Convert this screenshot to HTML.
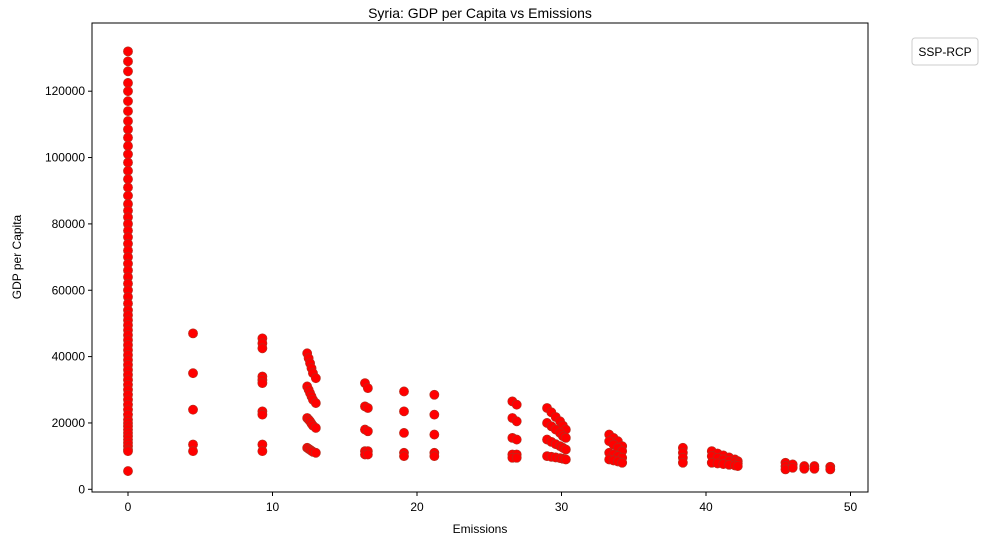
<!DOCTYPE html>
<html><head><meta charset="utf-8"><style>
body{margin:0;background:#fff;font-family:"Liberation Sans","DejaVu Sans",sans-serif}
</style></head><body>
<svg id="chart" width="989" height="545" xmlns="http://www.w3.org/2000/svg" font-family="Liberation Sans, DejaVu Sans, sans-serif">
<rect width="989" height="545" fill="#fff"/>
<text x="480" y="18" text-anchor="middle" font-size="14">Syria: GDP per Capita vs Emissions</text>
<g id="points"></g>
<rect x="92" y="23" width="776" height="469" fill="none" stroke="#000" stroke-width="1"/>
<g id="xticks"></g>
<g id="yticks"></g>
<text x="480" y="533" text-anchor="middle" font-size="12">Emissions</text>
<text transform="translate(21,257) rotate(-90)" text-anchor="middle" font-size="12">GDP per Capita</text>
<g>
<rect x="912" y="38" width="66" height="27" rx="3" fill="#fff" stroke="#ccc"/>
<text x="945" y="56" text-anchor="middle" font-size="12">SSP-RCP</text>
</g>
</svg>
<script>
const emissions = [
0,0,0,0,0,0,0,0,0,0,0,0,0,0,0,0,0,0,0,0,0,0,0,0,0,0,0,0,0,0,0,0,0,0,0,0,0,0,0,0,0,0,0,0,0,0,0,0,0,0,0,0,0,0,0,0,0,0,0,0,0,0,0,0,0,0,0,
4.5,4.5,4.5,4.5,4.5,
9.3,9.3,9.3,9.3,9.3,9.3,9.3,9.3,9.3,9.3,
12.4,12.5,12.6,12.7,12.8,13.0,12.4,12.5,12.6,12.7,12.8,13.0,12.4,12.5,12.6,12.7,12.8,13.0,12.4,12.5,12.6,12.7,12.8,13.0,
16.4,16.6,16.4,16.6,16.4,16.6,16.4,16.6,16.4,16.6,
19.1,19.1,19.1,19.1,19.1,
21.2,21.2,21.2,21.2,21.2,
26.6,26.9,26.6,26.9,26.6,26.9,26.6,26.9,26.6,26.9,
29.0,29.3,29.6,29.9,30.1,30.3,29.0,29.3,29.6,29.9,30.1,30.3,29.0,29.3,29.6,29.9,30.1,30.3,29.0,29.3,29.6,29.9,30.1,30.3,
33.3,33.6,33.9,34.2,33.3,33.6,33.9,34.2,33.3,33.6,33.9,34.2,33.3,33.6,33.9,34.2,
38.4,38.4,38.4,38.4,
40.4,40.8,41.2,41.6,42.0,42.2,40.4,40.8,41.2,41.6,42.0,42.2,40.4,40.8,41.2,41.6,42.0,42.2,
45.5,45.5,45.5,46.0,46.0,46.8,46.8,47.5,47.5,48.6,48.6
];
const gdp = [
132000,129000,126000,122500,120000,117000,114000,111000,108500,106000,103500,101000,98500,96000,93500,91000,88500,86000,84000,82000,80000,78000,76000,74000,72000,70000,68000,66000,64000,62000,60000,58000,56000,54000,52500,51000,49500,48000,46500,45000,43500,42000,40500,39000,37500,36000,34500,33000,31500,30000,28500,27000,25500,24000,22500,21000,20000,19000,18000,17000,16000,15000,14000,13000,12000,11500,5500,
47000,35000,24000,13500,11500,
45500,44000,42500,34000,33000,32000,23500,22500,13500,11500,
41000,39500,38000,36500,35000,33500,31000,30000,29000,28000,27000,26000,21500,21000,20500,19800,19200,18500,12500,12200,11900,11600,11300,11000,
32000,30500,25000,24500,18000,17500,11500,11500,10500,10500,
29500,23500,17000,11000,10000,
28500,22500,16500,11000,10000,
26500,25500,21500,20500,15500,15000,10500,10500,9500,9500,
24500,23200,21800,20500,19200,18000,20000,19000,18000,17000,16000,15500,15000,14300,13600,13000,12500,12000,10000,9800,9600,9400,9200,9000,
16500,15500,14500,13000,14500,13500,12500,11500,11000,10500,10000,9500,9000,8700,8400,8000,
12500,11000,9500,8000,
11500,10800,10200,9600,9000,8500,10000,9500,9000,8600,8200,7800,8000,7800,7600,7400,7200,7000,
8000,7000,6000,7500,6500,7000,6200,7000,6200,6800,6000
];
const xTicks = [0,10,20,30,40,50];
const yTicks = [0,20000,40000,60000,80000,100000,120000];
const NS="http://www.w3.org/2000/svg";
const xs = v => 128 + v*14.45;
const ys = v => 489.3 - v*0.0033175;
const pts=document.getElementById('points');
for(let i=0;i<emissions.length;i++){
  const c=document.createElementNS(NS,'circle');
  c.setAttribute('cx',xs(emissions[i]));c.setAttribute('cy',ys(gdp[i]));c.setAttribute('r',4.6);
  c.setAttribute('fill','#ff0000');c.setAttribute('stroke','#b03020');c.setAttribute('stroke-width','0.6');
  
  
  pts.appendChild(c);
}
const xg=document.getElementById('xticks');
xTicks.forEach(t=>{
  const l=document.createElementNS(NS,'line');
  l.setAttribute('x1',xs(t));l.setAttribute('x2',xs(t));l.setAttribute('y1',492);l.setAttribute('y2',496);l.setAttribute('stroke','#000');
  
  
  xg.appendChild(l);
  const tx=document.createElementNS(NS,'text');
  tx.setAttribute('x',xs(t));tx.setAttribute('y',511);tx.setAttribute('text-anchor','middle');tx.setAttribute('font-size','12');
  tx.textContent=t;
  
  
  xg.appendChild(tx);
});
const yg=document.getElementById('yticks');
yTicks.forEach(t=>{
  const l=document.createElementNS(NS,'line');
  l.setAttribute('x1',88);l.setAttribute('x2',92);l.setAttribute('y1',ys(t));l.setAttribute('y2',ys(t));l.setAttribute('stroke','#000');
  
  
  yg.appendChild(l);
  const tx=document.createElementNS(NS,'text');
  tx.setAttribute('x',85);tx.setAttribute('y',ys(t)+4);tx.setAttribute('text-anchor','end');tx.setAttribute('font-size','12');
  tx.textContent=t;
  
  
  yg.appendChild(tx);
});
</script>
</body></html>
